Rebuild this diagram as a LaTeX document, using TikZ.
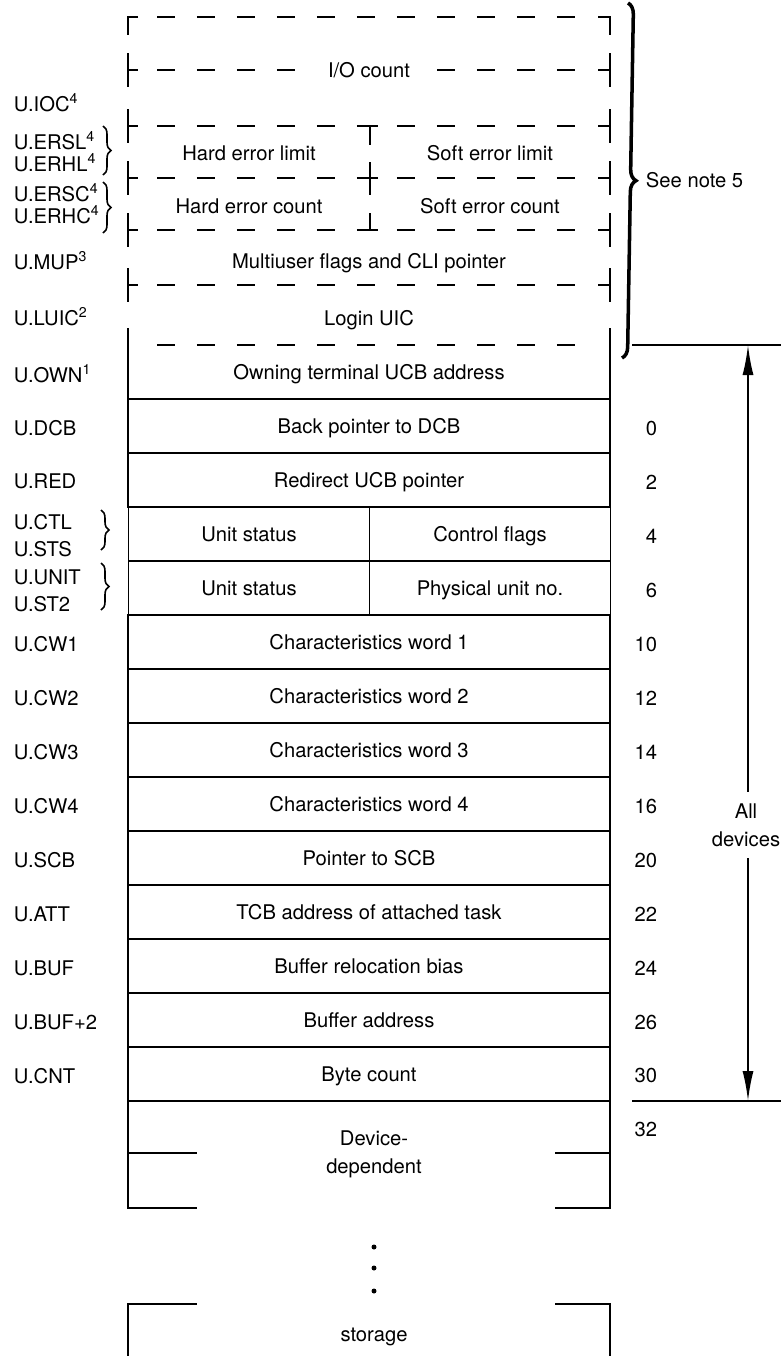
\documentclass[tikz,border=0pt]{standalone}
\usepackage{fontspec}
\setmainfont{TeX Gyre Heros}
\usetikzlibrary{decorations.pathreplacing}
\usetikzlibrary{arrows.meta}

\begin{document}
\begin{tikzpicture}[
  x=0.02cm, y=-0.02cm,
  line width=1.1pt,
  every node/.style={font=\fontsize{11.5pt}{15.9pt}\selectfont, inner sep=0pt},
  word/.style={draw, minimum width=9.64cm, minimum height=1.08cm, text height=8.3pt, text depth=0pt},
  half/.style={draw, minimum width=4.82cm, minimum height=1.08cm, text height=8.3pt, text depth=0pt},
  txt/.style={text height=8.3pt, text depth=0pt},
  lbl/.style={anchor=west, text height=8.3pt, text depth=0pt},
  off/.style={anchor=east, text height=8.3pt, text depth=0pt},
  dashrule/.style={dash pattern=on 0.36cm off 0.44cm},
  lbrace/.style={decorate, decoration={brace, amplitude=0.16cm}, line width=0.9pt},
  bigbrace/.style={decorate, decoration={brace, amplitude=0.22cm}, line width=2pt},
  tip/.style={-{Latex[length=0.6cm, width=0.22cm]}}
]
  \useasboundingbox (0,0) rectangle (781,1356);

  % optional words (dashed)
  \foreach \yy in {17,126,178,230,285,345}
    \draw[dashrule] (157,\yy) -- (593,\yy);
  \draw[dashrule] (157,70) -- (297,70);
  \draw[dashrule] (437,70) -- (593,70);
  \foreach \yy in {70,126,178,230,285}{
    \draw (128,\yy-17) -- (128,\yy+17) (128,\yy) -- (138,\yy);
    \draw (610,\yy-17) -- (610,\yy+17) (598,\yy) -- (610,\yy);
  }
  \draw (138,17) -- (128,17) -- (128,35);
  \draw (598,17) -- (610,17) -- (610,35);
  \draw (362,126) -- (378,126) (370,126) -- (370,145);
  \draw (362,178) -- (378,178) (370,162) -- (370,195);
  \draw (362,230) -- (378,230) (370,213) -- (370,230);

  \node[txt] (ioc) at (369,70) {I/O count};
  \node[txt] (hel) at (249,153) {Hard error limit};
  \node[txt] (sel) at (490,153) {Soft error limit};
  \node[txt] (hec) at (249,206) {Hard error count};
  \node[txt] (sec) at (490,206) {Soft error count};
  \node[txt] (mup) at (369,261) {Multiuser flags and CLI pointer};
  \node[txt] (luic) at (369,318) {Login UIC};

  % fixed words
  \node[word, draw=none] (own) at (369,372) {Owning terminal UCB address};
  \draw (128,328) -- (128,399);
  \draw (610,328) -- (610,399);
  \node[word] (dcb) at (369,426) {Back pointer to DCB};
  \node[word] (red) at (369,480) {Redirect UCB pointer};
  \node[half] (sts) at (249,534) {Unit status};
  \node[half] (ctl) at (490,534) {Control flags};
  \node[half] (st2) at (249,588) {Unit status};
  \node[half] (unit) at (490,588) {Physical unit no.};
  \node[word] (cw1) at (369,642) {Characteristics word 1};
  \node[word] (cw2) at (369,696) {Characteristics word 2};
  \node[word] (cw3) at (369,750) {Characteristics word 3};
  \node[word] (cw4) at (369,804) {Characteristics word 4};
  \node[word] (scb) at (369,858) {Pointer to SCB};
  \node[word] (att) at (369,912) {TCB address of attached task};
  \node[word] (buf) at (369,966) {Buffer relocation bias};
  \node[word] (bufa) at (369,1020) {Buffer address};
  \node[word] (cnt) at (369,1074) {Byte count};

  % device dependent part
  \draw (128,1101) -- (128,1208) -- (197,1208);
  \draw (555,1208) -- (610,1208) -- (610,1101);
  \draw (128,1153) -- (197,1153) (555,1153) -- (610,1153);
  \node[align=center] (devdep) at (374,1154) {Device-\\dependent};
  \foreach \yy in {1247,1268,1291}
    \fill (374,\yy) circle [radius=0.05cm];
  \draw (128,1360) -- (128,1304) -- (197,1304);
  \draw (555,1304) -- (610,1304) -- (610,1360);
  \node[txt] (stor) at (374,1334) {storage};

  % symbolic offsets
  \node[lbl] (l-ioc) at (13,104) {U.IOC\textsuperscript{4}};
  \node[lbl] (l-ersl) at (13,142) {U.ERSL\textsuperscript{4}};
  \node[lbl] (l-erhl) at (13,164) {U.ERHL\textsuperscript{4}};
  \node[lbl] (l-ersc) at (13,194) {U.ERSC\textsuperscript{4}};
  \node[lbl] (l-erhc) at (13,216) {U.ERHC\textsuperscript{4}};
  \node[lbl] (l-mup) at (13,262) {U.MUP\textsuperscript{3}};
  \node[lbl] (l-luic) at (13,318) {U.LUIC\textsuperscript{2}};
  \node[lbl] (l-own) at (13,375) {U.OWN\textsuperscript{1}};
  \node[lbl] (l-dcb) at (13,428) {U.DCB};
  \node[lbl] (l-red) at (13,481) {U.RED};
  \node[lbl] (l-ctl) at (13,522) {U.CTL};
  \node[lbl] (l-sts) at (13,549) {U.STS};
  \node[lbl] (l-unit) at (13,577) {U.UNIT};
  \node[lbl] (l-st2) at (13,604) {U.ST2};
  \node[lbl] (l-cw1) at (13,644) {U.CW1};
  \node[lbl] (l-cw2) at (13,698) {U.CW2};
  \node[lbl] (l-cw3) at (13,752) {U.CW3};
  \node[lbl] (l-cw4) at (13,806) {U.CW4};
  \node[lbl] (l-scb) at (13,860) {U.SCB};
  \node[lbl] (l-att) at (13,914) {U.ATT};
  \node[lbl] (l-buf) at (13,968) {U.BUF};
  \node[lbl] (l-bufa) at (13,1022) {U.BUF+2};
  \node[lbl] (l-cnt) at (13,1076) {U.CNT};

  \draw[lbrace] (103,126) -- (103,175);
  \draw[lbrace] (103,182) -- (103,233);
  \draw[lbrace] (101,510) -- (101,550);
  \draw[lbrace] (101,563) -- (101,610);

  % byte offsets
  \foreach \yy/\n in {428/0,482/2,536/4,590/6,644/10,698/12,752/14,806/16,
                      860/20,914/22,968/24,1022/26,1075/30,1129/32}
    \node[off] (n\n) at (658,\yy) {\n};

  % brace and range arrow
  \draw[bigbrace] (628,3) -- (622,358);
  \node[anchor=west, txt] (note) at (645,180) {See note 5};

  \coordinate (ttop) at (748,345);
  \coordinate (tbot) at (748,1101);
  \coordinate (hl1) at (632,345);
  \coordinate (hr1) at (790,345);
  \coordinate (hl2) at (632,1101);
  \coordinate (hr2) at (790,1101);
  \draw (hl1) -- (hr1);
  \draw (hl2) -- (hr2);
  \node[align=center, inner ysep=0.22cm] (alldev) at (746,825) {All\\devices};
  \draw[tip] (alldev.north -| ttop) -- (ttop);
  \draw[tip] (alldev.south -| tbot) -- (tbot);
\end{tikzpicture}
\end{document}
